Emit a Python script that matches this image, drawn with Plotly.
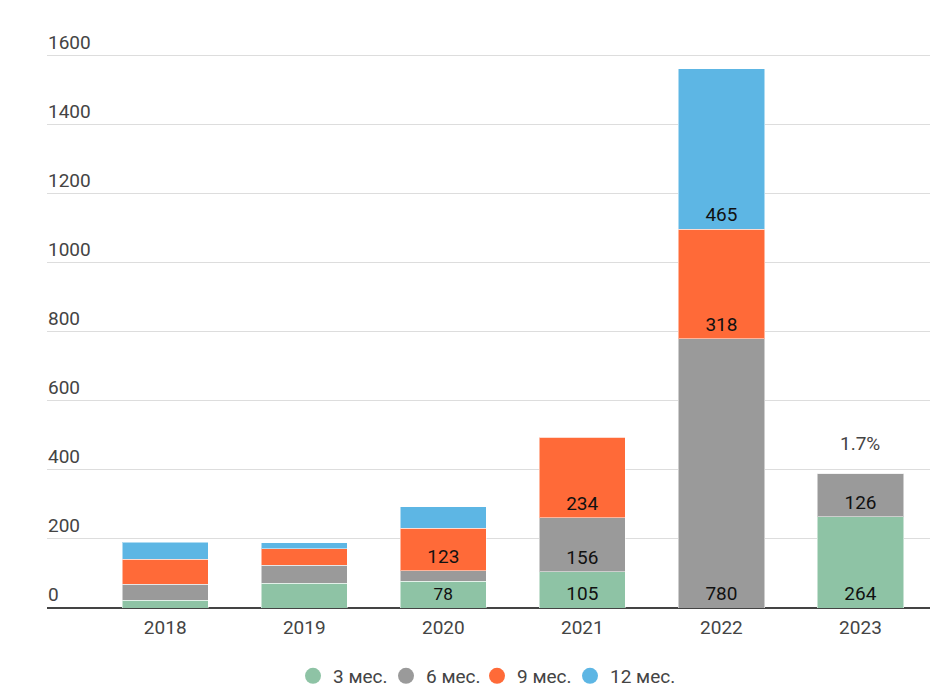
import plotly.graph_objects as go

years = ["2018", "2019", "2020", "2021", "2022", "2023"]
m3 = [23, 72, 78, 105, 0, 264]
m6 = [46, 52, 30, 156, 780, 126]
m9 = [72, 48, 123, 234, 318, 0]
m12 = [49, 17, 63, 0, 465, 0]
# which segment values are printed on the chart
show3 = [False, False, True, True, False, True]
show6 = [False, False, False, True, True, True]
show9 = [False, False, True, True, True, False]
show12 = [False, False, False, False, True, False]
names = ["3 мес.", "6 мес.", "9 мес.", "12 мес."]
colors = ["#8EC3A5", "#9A9A9A", "#FF6A38", "#5DB6E4"]
y_ticks = [0, 200, 400, 600, 800, 1000, 1200, 1400, 1600]
note_year = "2023"
note_text = "1.7%"

W, H = 934, 685
legend_left_px = [285, 378, 469, 562]  # left edge of each legend entry box

fig = go.Figure()
for vals, show, name, col in zip([m3, m6, m9, m12], [show3, show6, show9, show12], names, colors):
    fig.add_trace(go.Bar(
        x=years, y=vals, name=name,
        marker=dict(color=col, line=dict(color="rgba(255,255,255,0.5)", width=1)),
        text=[str(v) if s else "" for v, s in zip(vals, show)],
        textposition="inside", insidetextanchor="start", textangle=0,
        textfont=dict(color="#111", size=19, family="Roboto"),
        showlegend=False, hoverinfo="skip",
    ))
legend_layouts = {}
for i, (name, col) in enumerate(zip(names, colors)):
    key = "legend" if i == 0 else f"legend{i + 1}"
    fig.add_trace(go.Scatter(
        x=[years[0]], y=[None], mode="markers", name=name, legend=key,
        marker=dict(color=col, size=16, symbol="circle"), showlegend=True,
    ))
    legend_layouts[key] = dict(
        orientation="h", xref="container", yref="container",
        x=legend_left_px[i] / W, xanchor="left", y=17 / H, yanchor="middle",
        font=dict(size=19, color="#444", family="Roboto"), bgcolor="rgba(0,0,0,0)",
    )

totals = [a + b + c + d for a, b, c, d in zip(m3, m6, m9, m12)]
idx = years.index(note_year)
fig.add_annotation(xref="x", yref="y", x=idx, y=totals[idx], text=note_text, showarrow=False,
                   yanchor="bottom", yshift=16, font=dict(size=19, color="#444", family="Roboto"))

fig.update_layout(
    width=W, height=H, barmode="stack", bargap=0.38,
    paper_bgcolor="white", plot_bgcolor="white",
    margin=dict(l=39, r=12, t=20, b=85, autoexpand=False),
    font=dict(family="Roboto", color="#444", size=19),
    xaxis=dict(type="category", range=[-0.85, 5.5], showgrid=False, ticks="",
               ticklabelstandoff=6,
               tickfont=dict(size=19, color="#444"), showline=False, automargin=False),
    yaxis=dict(range=[0, 1681], tickvals=y_ticks,
               showgrid=True, gridcolor="#dddddd", gridwidth=1,
               ticklabelposition="inside top", ticklabelstandoff=-2,
               tickfont=dict(size=19, color="#444"), automargin=False,
               zeroline=True, zerolinecolor="#444", zerolinewidth=2, ticks=""),
    **legend_layouts,
)
fig.write_html("out.html")
